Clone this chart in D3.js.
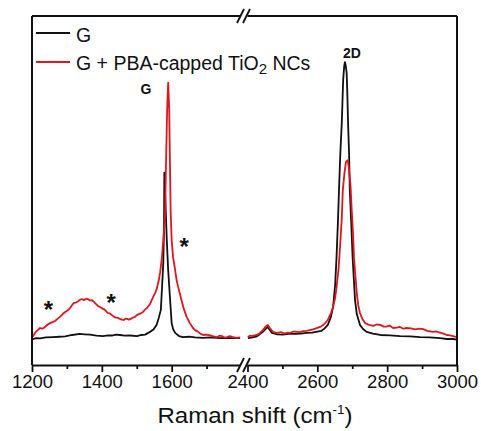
<!DOCTYPE html>
<html><head><meta charset="utf-8">
<script src="https://cdn.jsdelivr.net/npm/d3@7"></script>
<style>
html,body{margin:0;padding:0;background:#fff;}
svg{display:block;}
text{font-family:"Liberation Sans",Arial,sans-serif;fill:#111;}
</style></head>
<body>
<svg id="chart" width="481" height="431"></svg>
<script>
// ---- data (wavenumber cm^-1, intensity a.u.) ----
const gLow = [[1202,7.4],[1212,7.7],[1223,7.6],[1240,7.9],[1260,8.0],[1278,8.1],[1295,8.2],[1315,8.6],[1337,8.9],[1350,8.8],[1366,8.7],[1385,8.4],[1403,8.3],[1418,8.5],[1429,8.45],[1440,8.7],[1452,8.6],[1466,8.4],[1481,8.45],[1501,8.3],[1513,8.6],[1524,8.7],[1538,9.5],[1548,10.2],[1557,11.5],[1563,13.5],[1569,15.8],[1572,21.5],[1576,29.2],[1578,38.7],[1579,55.1],[1582,47.3],[1586,35.8],[1590,27.2],[1595,19.5],[1600,12.0],[1604,10.3],[1610,9.2],[1621,8.3],[1632,8.0],[1650,8.1],[1667,7.9],[1690,7.8],[1710,7.9],[1738,7.7],[1760,7.8],[1773,7.7],[1796,7.7]];
const gHigh = [[2401,7.7],[2415,7.9],[2427,8.2],[2444,9.5],[2458,10.9],[2470,9.2],[2485,8.8],[2501,8.7],[2518,8.9],[2536,8.9],[2552,9.0],[2569,9.2],[2585,9.3],[2596,9.5],[2612,9.8],[2621,10.5],[2630,11.5],[2639,13.8],[2645,16.6],[2651,22.9],[2655,30.9],[2659,41.0],[2662,50.1],[2666,61.0],[2670,69.3],[2674,81.7],[2677,85.7],[2679,86.8],[2681,86.0],[2684,83.7],[2686,77.4],[2688,69.3],[2691,60.2],[2693,50.1],[2697,41.0],[2701,30.9],[2705,23.8],[2708,18.6],[2713,14.6],[2722,11.5],[2731,10.3],[2741,9.5],[2759,9.0],[2780,8.6],[2808,8.5],[2837,8.3],[2865,8.2],[2894,8.0],[2922,7.9],[2951,7.7],[2971,7.45],[2988,7.45],[3000,7.3]];
const rLow = [[1202,8.1],[1211,9.5],[1223,10.6],[1230,10.4],[1237,10.9],[1245,11.6],[1252,12.0],[1259,12.3],[1266,12.6],[1273,13.2],[1280,13.8],[1288,14.6],[1295,15.2],[1302,15.6],[1309,16.3],[1315,17.2],[1320,17.8],[1326,17.9],[1332,18.3],[1338,18.7],[1343,18.9],[1348,18.6],[1352,18.8],[1356,19.0],[1360,18.9],[1366,18.5],[1372,18.6],[1376,18.2],[1380,17.8],[1385,17.3],[1389,16.9],[1395,16.6],[1400,16.3],[1405,16.0],[1409,15.8],[1414,15.2],[1418,14.9],[1424,14.7],[1429,14.3],[1435,13.8],[1441,13.6],[1446,13.5],[1452,13.2],[1457,13.0],[1463,12.9],[1468,13.3],[1472,13.2],[1478,13.0],[1484,13.3],[1490,13.6],[1495,13.8],[1500,14.3],[1506,14.6],[1512,14.8],[1518,15.2],[1524,15.9],[1529,16.3],[1534,16.9],[1538,17.5],[1543,18.6],[1547,19.5],[1554,20.9],[1558,22.1],[1563,24.2],[1567,26.6],[1572,30.7],[1576,35.8],[1581,43.0],[1584,58.7],[1587,73.1],[1590,80.9],[1593,73.1],[1595,58.7],[1597,44.4],[1600,35.8],[1604,30.9],[1610,27.2],[1614,24.4],[1618,22.6],[1624,20.3],[1628,18.6],[1635,16.0],[1643,13.8],[1652,12.0],[1661,10.6],[1667,10.0],[1673,9.7],[1682,9.0],[1690,8.6],[1700,8.7],[1710,8.5],[1720,8.2],[1730,8.0],[1737,8.4],[1744,8.3],[1751,7.9],[1758,7.9],[1766,8.3],[1776,8.0],[1786,7.8],[1796,7.9]];
const rHigh = [[2401,8.0],[2407,8.4],[2413,8.3],[2420,8.5],[2427,8.6],[2436,9.2],[2444,10.0],[2452,11.0],[2458,11.5],[2464,10.6],[2473,9.5],[2480,9.3],[2487,9.2],[2496,9.4],[2505,9.0],[2514,9.3],[2522,9.2],[2532,9.6],[2542,9.5],[2550,9.4],[2559,9.7],[2569,9.8],[2579,10.0],[2588,10.2],[2596,10.5],[2608,10.9],[2619,11.6],[2630,12.9],[2639,14.9],[2645,16.6],[2651,19.2],[2655,22.3],[2661,27.8],[2665,33.8],[2670,42.1],[2673,50.1],[2678,55.3],[2682,58.1],[2686,58.7],[2688,58.1],[2690,56.7],[2695,51.6],[2698,45.3],[2702,38.1],[2705,30.9],[2709,25.5],[2713,20.6],[2717,17.2],[2722,14.9],[2729,13.2],[2737,12.0],[2748,11.5],[2760,11.2],[2770,11.6],[2780,11.5],[2790,11.0],[2797,11.0],[2807,11.3],[2817,10.6],[2827,10.7],[2837,10.9],[2846,10.4],[2856,10.6],[2868,10.5],[2880,10.2],[2892,10.4],[2903,10.3],[2915,9.8],[2931,9.5],[2941,9.6],[2951,9.3],[2961,9.0],[2971,8.6],[2980,8.5],[2988,8.3],[3000,8.0]];

const lowTicks = [1200,1400,1600];
const lowMinor = [1300,1500,1700];
const highTicks = [2400,2600,2800,3000];
const highMinor = [2500,2700,2900];
const legendLabels = ["G","G + PBA-capped TiO","2"," NCs"];
const seriesColors = ["#111111","#e3141b"];
const starMarks = [[1247,17.5],[1427,19.5],[1636,35.5]];

// ---- layout ----
const svg = d3.select("#chart");
const pTop = 16, pBottom = 365, pLeft = 32, pRight = 457;
const xLow = d3.scaleLinear().domain([1200,1800]).range([pLeft,241.5]);
const xHigh = d3.scaleLinear().domain([2400,3000]).range([247.5,pRight]);
const y = d3.scaleLinear().domain([0,100]).range([pBottom,pTop]);

const lineLow = d3.line().x(d=>xLow(d[0])).y(d=>y(d[1]));
const lineHigh = d3.line().x(d=>xHigh(d[0])).y(d=>y(d[1]));

const plot = svg.append("g");
function drawSeries(lowD, highD, color){
  plot.append("path").datum(lowD).attr("d",lineLow).attr("fill","none").attr("stroke",color).attr("stroke-width",1.8).attr("stroke-linejoin","round");
  plot.append("path").datum(highD).attr("d",lineHigh).attr("fill","none").attr("stroke",color).attr("stroke-width",1.8).attr("stroke-linejoin","round");
}
drawSeries(gLow,gHigh,seriesColors[0]);
drawSeries(rLow,rHigh,seriesColors[1]);

// ---- frame ----
const frame = svg.append("g").attr("stroke","#111").attr("stroke-width",2).attr("fill","none");
frame.append("line").attr("x1",pLeft).attr("x2",pLeft).attr("y1",pTop).attr("y2",pBottom);
frame.append("line").attr("x1",pRight).attr("x2",pRight).attr("y1",pTop).attr("y2",pBottom);
frame.append("line").attr("x1",pLeft).attr("x2",xLow(1800)).attr("y1",pTop).attr("y2",pTop);
frame.append("line").attr("x1",xHigh(2400)).attr("x2",pRight).attr("y1",pTop).attr("y2",pTop);

// ---- axes ----
function styleAxis(g){
  g.select(".domain").attr("stroke","#111").attr("stroke-width",2);
  g.selectAll(".tick line").attr("stroke","#111").attr("stroke-width",1.8);
  g.selectAll(".tick text").attr("font-size","18.5px").attr("font-family","Liberation Sans, Arial, sans-serif").attr("fill","#111").attr("y",10).attr("dy","0.71em");
}
const axLow = svg.append("g").attr("transform",`translate(0,${pBottom})`)
  .call(d3.axisBottom(xLow).tickValues(lowTicks).tickSize(7).tickSizeOuter(0).tickFormat(d3.format("d")));
styleAxis(axLow);
const axLowM = svg.append("g").attr("transform",`translate(0,${pBottom})`)
  .call(d3.axisBottom(xLow).tickValues(lowMinor).tickSize(4).tickFormat(""));
axLowM.select(".domain").remove(); styleAxis(axLowM);
const axHigh = svg.append("g").attr("transform",`translate(0,${pBottom})`)
  .call(d3.axisBottom(xHigh).tickValues(highTicks).tickSize(7).tickSizeOuter(0).tickFormat(d3.format("d")));
styleAxis(axHigh);
const axHighM = svg.append("g").attr("transform",`translate(0,${pBottom})`)
  .call(d3.axisBottom(xHigh).tickValues(highMinor).tickSize(4).tickFormat(""));
axHighM.select(".domain").remove(); styleAxis(axHighM);

// ---- break marks ----
function breakMark(yc){
  const g = svg.append("g");
  const a = xLow(1800)-1, b = xHigh(2400)-1;
  g.append("polygon").attr("points",`${a-3},${yc+6} ${a+3},${yc-6} ${b+3},${yc-6} ${b-3},${yc+6}`).attr("fill","#fff");
  g.append("line").attr("x1",a-3.5).attr("y1",yc+7).attr("x2",a+3.5).attr("y2",yc-7).attr("stroke","#111").attr("stroke-width",1.8);
  g.append("line").attr("x1",b-3.5).attr("y1",yc+7).attr("x2",b+3.5).attr("y2",yc-7).attr("stroke","#111").attr("stroke-width",1.8);
}
breakMark(pBottom);
breakMark(pTop);

// ---- axis title ----
const title = svg.append("text").attr("transform","translate(255,423) scale(1.12,1)").attr("text-anchor","middle").attr("font-size","21.5px");
title.append("tspan").text("Raman shift (cm");
title.append("tspan").attr("dy",-9).attr("font-size","12px").text("-1");
title.append("tspan").attr("dy",9).text(")");

// ---- legend ----
const leg = svg.append("g");
leg.append("line").attr("x1",36).attr("x2",70).attr("y1",33).attr("y2",33).attr("stroke",seriesColors[0]).attr("stroke-width",2);
leg.append("text").attr("x",76).attr("y",42).attr("font-size","19.5px").text(legendLabels[0]);
leg.append("line").attr("x1",36).attr("x2",70).attr("y1",62).attr("y2",62).attr("stroke",seriesColors[1]).attr("stroke-width",2);
const lt = leg.append("text").attr("x",76).attr("y",70).attr("font-size","19.5px");
lt.append("tspan").text(legendLabels[1]);
lt.append("tspan").attr("dy",4).attr("font-size","15px").text(legendLabels[2]);
lt.append("tspan").attr("dy",-4).text(legendLabels[3]);

// ---- annotations ----
const ann = svg.append("g").attr("font-family","Open Sans, DejaVu Sans, sans-serif").attr("font-weight","bold");
ann.append("text").attr("x",140.5).attr("y",94).attr("font-size","14px").text("G");
ann.append("text").attr("x",343).attr("y",58).attr("font-size","14px").text("2D");
starMarks.forEach(s=>{
  ann.append("text").attr("x",xLow(s[0])).attr("y",y(s[1])+14).attr("text-anchor","middle").attr("font-size","24px").attr("font-family","Liberation Sans, Arial, sans-serif").text("*");
});
</script>
</body></html>
